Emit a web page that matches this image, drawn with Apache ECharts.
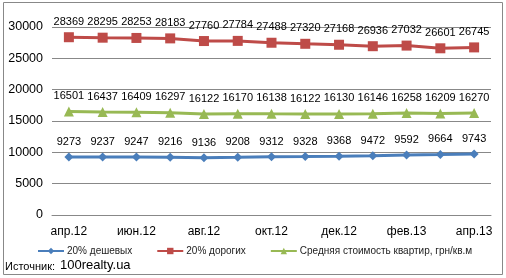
<!DOCTYPE html>
<html><head><meta charset="utf-8">
<script src="https://cdn.jsdelivr.net/npm/echarts@6/dist/echarts.min.js"></script>
<style>html,body{margin:0;padding:0;background:#fff}#c{width:506px;height:278px}</style>
</head><body><div id="c"></div>
<script>
var categories = ['апр.12','май.12','июн.12','июл.12','авг.12','сен.12','окт.12','ноя.12','дек.12','янв.13','фев.13','мар.13','апр.13'];
var cheap = [9273,9237,9247,9216,9136,9208,9312,9328,9368,9472,9592,9664,9743];
var expensive = [28369,28295,28253,28183,27760,27784,27488,27320,27168,26936,27032,26601,26745];
var average = [16501,16437,16409,16297,16122,16170,16138,16122,16130,16146,16258,16209,16270];
var seriesNames = ['20% дешевых','20% дорогих','Средняя стоимость квартир, грн/кв.м'];
var yTicks = {min:0, max:30000, interval:5000};

var font = '"Liberation Sans", Arial, sans-serif';
var chart = echarts.init(document.getElementById('c'));
function s(name, data, color, symbol, size){
  return {name:name, type:'line', data:data, symbol:symbol, symbolSize:size,
    lineStyle:{color:color, width:3}, itemStyle:{color:color},
    label:{show:true, position:'top', distance:5, color:'#000', fontSize:11, fontFamily:font},
    animation:false};
}
chart.setOption({
  animation:false,
  graphic:[
    {type:'rect', shape:{x:3.5,y:2.5,width:499,height:272}, style:{fill:'none', stroke:'#888', lineWidth:1}},
    {type:'text', left:5, top:261, style:{text:'Источник:', font:'11px '+font, fill:'#000'}},
    {type:'text', left:60, top:259, style:{text:'100realty.ua', font:'13px '+font, fill:'#000'}}
  ],
  grid:{left:52, right:15, top:27, bottom:63},
  legend:{left:32, top:241, width:470, itemWidth:26, itemHeight:8, itemGap:24,
    textStyle:{fontSize:10, fontFamily:font, color:'#222', padding:[0,0,0,-2]},
    data:seriesNames},
  xAxis:{type:'category', data:categories, boundaryGap:true,
    axisLine:{lineStyle:{color:'#888'}}, axisTick:{show:false},
    axisLabel:{interval:1, color:'#000', fontSize:12, fontFamily:font, margin:11}},
  yAxis:{type:'value', min:yTicks.min, max:yTicks.max, interval:yTicks.interval,
    axisLine:{show:false}, axisTick:{show:false},
    splitLine:{lineStyle:{color:'#888'}},
    axisLabel:{color:'#000', fontSize:12.5, fontFamily:font, margin:9, formatter:function(v){return String(v);}}},
  series:[
    s(seriesNames[0], cheap, '#4A7EBB', 'diamond', 9),
    s(seriesNames[1], expensive, '#BE4B48', 'rect', 10),
    s(seriesNames[2], average, '#98B954', 'triangle', 10)
  ]
});
</script></body></html>
